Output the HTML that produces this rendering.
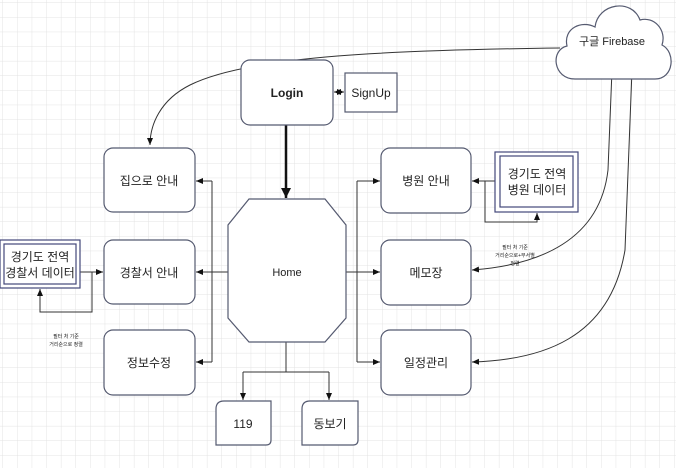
<!DOCTYPE html>
<html><head><meta charset="utf-8"><style>
html,body{margin:0;padding:0;background:#fff}
svg{display:block}
text{font-family:"Liberation Sans","Noto Sans CJK KR",sans-serif;fill:#222}
</style></head><body>
<svg width="676" height="468" viewBox="0 0 676 468" xmlns="http://www.w3.org/2000/svg">
<defs>
<pattern id="g" width="14.6" height="14.6" patternUnits="userSpaceOnUse" x="3" y="3">
<path d="M14.6 0V14.6H0" fill="none" stroke="#e3e3e3" stroke-width="1"/>
</pattern>
<marker id="a" markerWidth="8" markerHeight="8" refX="7" refY="4" orient="auto" markerUnits="userSpaceOnUse">
<path d="M0,1 L7,4 L0,7z" fill="#111"/>
</marker>
<marker id="ab" markerWidth="12" markerHeight="12" refX="10" refY="6" orient="auto" markerUnits="userSpaceOnUse">
<path d="M0,1 L10,6 L0,11z" fill="#111"/>
</marker>
</defs>
<rect width="676" height="468" fill="url(#g)"/>

<g fill="none" stroke="#333" stroke-width="1">
<path d="M560,48 C400,50 250,55 190,85 C160,100 150,125 150,145" marker-end="url(#a)"/>
<path d="M612,70 L608,170 C600,240 540,265 472,270" marker-end="url(#a)"/>
<path d="M632,70 L625,250 C610,340 540,360 472,362" marker-end="url(#a)"/>
<path d="M229,272 H212"/>
<path d="M212,181 V362"/>
<path d="M212,181 H196" marker-end="url(#a)"/>
<path d="M212,272 H196" marker-end="url(#a)"/>
<path d="M212,362 H196" marker-end="url(#a)"/>
<path d="M346,272 H357"/>
<path d="M357,181 V362"/>
<path d="M357,181 H380" marker-end="url(#a)"/>
<path d="M357,272 H380" marker-end="url(#a)"/>
<path d="M357,362 H380" marker-end="url(#a)"/>
<path d="M286,342 V372 M243,372 H329"/>
<path d="M243,372 V400" marker-end="url(#a)"/>
<path d="M329,372 V400" marker-end="url(#a)"/>
<path d="M80,272 H103" marker-end="url(#a)"/>
<path d="M92,272 V312 H40 V289" marker-end="url(#a)"/>
<path d="M495,181 H472" marker-end="url(#a)"/>
<path d="M485,181 V222 H537 V213" marker-end="url(#a)"/>
<path d="M337,92 H344" marker-end="url(#a)"/>
<path d="M341,92 H334" marker-end="url(#a)"/>
</g>
<path d="M286,125 V198" stroke="#111" stroke-width="2.5" fill="none" marker-end="url(#ab)"/>

<g fill="#fff" stroke="#555a70" stroke-width="1.2">
<rect x="241" y="60" width="92" height="65" rx="9"/>
<rect x="345" y="73" width="52" height="39"/>
<rect x="104" y="148" width="91" height="64" rx="9"/>
<rect x="104" y="240" width="91" height="64" rx="9"/>
<rect x="104" y="330" width="91" height="65" rx="9"/>
<rect x="381" y="148" width="90" height="65" rx="9"/>
<rect x="381" y="240" width="90" height="65" rx="9"/>
<rect x="381" y="330" width="90" height="65" rx="9"/>
<path d="M249,199 H325 L346,225 V318 L325,342 H249 L228,318 V225 Z"/>
<path d="M224,401 H271 V440 Q271,445 266,445 H216 V409 Q216,401 224,401Z"/>
<path d="M310,401 H358 V440 Q358,445 353,445 H302 V409 Q302,401 310,401Z"/>
<rect x="0" y="240" width="80" height="48" stroke="#44487a"/>
<rect x="4" y="244" width="72" height="40" stroke="#44487a"/>
<rect x="495" y="152" width="83" height="60" stroke="#44487a"/>
<rect x="500" y="156" width="73" height="51" stroke="#44487a"/>
<path d="M575,79 C553,79 550,50 567,46 C563,28 582,20 595,27 C598,3 632,-2 640,20 C654,16 667,30 662,45 C676,52 674,79 655,79 Z"/>
</g>

<g font-size="12" text-anchor="middle">
<text x="287" y="97" font-weight="bold">Login</text>
<text x="371" y="97">SignUp</text>
<text x="149" y="185">집으로 안내</text>
<text x="149" y="277">경찰서 안내</text>
<text x="149" y="367">정보수정</text>
<text x="426" y="185">병원 안내</text>
<text x="426" y="277">메모장</text>
<text x="426" y="367">일정관리</text>
<text x="287" y="276" font-size="11">Home</text>
<text x="243" y="428">119</text>
<text x="330" y="428">동보기</text>
<text x="40" y="261">경기도 전역</text>
<text x="40" y="277">경찰서 데이터</text>
<text x="537" y="178">경기도 전역</text>
<text x="537" y="194">병원 데이터</text>
<text x="612" y="45" font-size="11">구글 Firebase</text>
</g>
<g font-size="5" text-anchor="middle">
<text x="66" y="338">필터 처 기준</text>
<text x="66" y="346">거리순으로 정렬</text>
<text x="515" y="249">필터 처 기준</text>
<text x="515" y="257">거리순으로+부서별</text>
<text x="515" y="265">정렬</text>
</g>
</svg>
</body></html>
